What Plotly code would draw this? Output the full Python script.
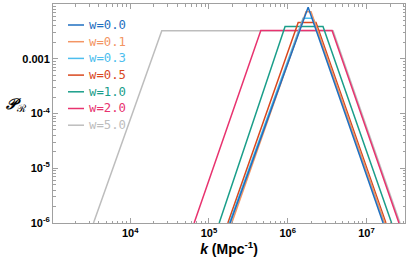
import plotly.graph_objects as go

# Series labels and colours
labels = ["w=0.0", "w=0.1", "w=0.3", "w=0.5", "w=1.0", "w=2.0", "w=5.0"]
colors = ["#1f6fc0", "#f39563", "#4dbeee", "#d9481e", "#1a9e8a", "#e8336f", "#bdbdbd"]

# Read-off breakpoints (k in Mpc^-1, P_R)
k_w00 = [1.86e5, 1.82e6, 1.63e7]
p_w00 = [1e-6, 8.7e-3, 1e-6]
k_w01 = [1.95e5, 1.71e6, 1.98e6, 1.71e7]
p_w01 = [1e-6, 7.2e-3, 7.2e-3, 1e-6]
k_w03 = [1.82e5, 1.57e6, 2.10e6, 1.70e7]
p_w03 = [1e-6, 5.5e-3, 5.5e-3, 1e-6]
k_w05 = [1.74e5, 1.36e6, 2.29e6, 1.77e7]
p_w05 = [1e-6, 4.57e-3, 4.57e-3, 1e-6]
k_w10 = [1.35e5, 9.27e5, 2.81e6, 2.09e7]
p_w10 = [1e-6, 3.87e-3, 3.87e-3, 1e-6]
k_w20 = [6.49e4, 4.56e5, 3.66e6, 2.59e7]
p_w20 = [1e-6, 3.27e-3, 3.27e-3, 1e-6]
k_w50 = [3.42e3, 2.52e4, 3.77e6, 2.67e7]
p_w50 = [1e-6, 3.24e-3, 3.24e-3, 1e-6]

ks = [k_w00, k_w01, k_w03, k_w05, k_w10, k_w20, k_w50]
ps = [p_w00, p_w01, p_w03, p_w05, p_w10, p_w20, p_w50]

x_tickvals = [1e4, 1e5, 1e6, 1e7]
x_ticktext = ["10<sup>4</sup>", "10<sup>5</sup>", "10<sup>6</sup>", "10<sup>7</sup>"]
y_tickvals = [1e-6, 1e-5, 1e-4, 1e-3, 1e-2]
y_ticktext = ["10<sup>-6</sup>", "10<sup>-5</sup>", "10<sup>-4</sup>", "0.001", ""]

fig = go.Figure()
for i in reversed(range(len(labels))):
    fig.add_trace(go.Scatter(x=ks[i], y=ps[i], mode="lines", name=labels[i],
                             line=dict(color=colors[i], width=1.5), showlegend=False))

# minor tick positions
x_minor = [m * 10 ** e for e in range(3, 8) for m in range(2, 10)]
y_minor = [m * 10.0 ** e for e in range(-6, -2) for m in range(2, 10)]

W, H = 415, 264
ml, mr, mt, mb = 53, 10, 4, 41
pw, ph = W - ml - mr, H - mt - mb

def px(x):
    return (x - ml) / pw

def py(y):
    return (H - mb - y) / ph

# legend drawn as short line samples + coloured monospace text
leg_y = [25, 41.7, 58.4, 75.1, 91.8, 108.5, 125.2]
shapes = []
annotations = []
for i, lab in enumerate(labels):
    shapes.append(dict(type="line", xref="paper", yref="paper",
                       x0=px(68), x1=px(84), y0=py(leg_y[i]), y1=py(leg_y[i]),
                       line=dict(color=colors[i], width=1.5)))
    annotations.append(dict(xref="paper", yref="paper", x=px(87), y=py(leg_y[i]),
                            xanchor="left", yanchor="middle", showarrow=False,
                            text=lab, font=dict(family="DejaVu Sans Mono", size=12.3, color=colors[i])))

annotations.append(dict(xref="paper", yref="paper", x=px(16), y=py(104),
                        xanchor="center", yanchor="middle", showarrow=False,
                        text="<b><i>𝒫</i></b><sub>ℛ</sub>",
                        font=dict(family="DejaVu Serif", size=15, color="black")))

axis_common = dict(showgrid=False, zeroline=False, showline=True, linecolor="#a0a0a0", linewidth=1,
                   mirror="allticks", ticks="inside", ticklen=5, tickcolor="#a0a0a0")

fig.update_layout(
    width=W, height=H, margin=dict(l=ml, r=mr, t=mt, b=mb),
    plot_bgcolor="white", paper_bgcolor="white",
    shapes=shapes, annotations=annotations,
    xaxis=dict(type="log", range=[3.02, 7.49], tickmode="array", tickvals=x_tickvals, ticktext=x_ticktext,
               minor=dict(tickmode="array", tickvals=x_minor, ticks="inside", ticklen=2.5, tickcolor="#a0a0a0"),
               tickfont=dict(family="Liberation Sans", size=11, color="black", weight="bold"),
               title=dict(text="<b><i>k</i> (Mpc<sup>-1</sup>)</b>", font=dict(family="Liberation Sans", size=14, color="black"), standoff=4),
               **axis_common),
    yaxis=dict(type="log", range=[-6, -2], tickmode="array", tickvals=y_tickvals, ticktext=y_ticktext,
               minor=dict(tickmode="array", tickvals=y_minor, ticks="inside", ticklen=2.5, tickcolor="#a0a0a0"),
               tickfont=dict(family="Liberation Sans", size=11, color="black", weight="bold"),
               **axis_common),
    showlegend=False,
)

fig.write_html("out.html", config={"displayModeBar": False},
               post_script="document.body.style.margin='0';")
